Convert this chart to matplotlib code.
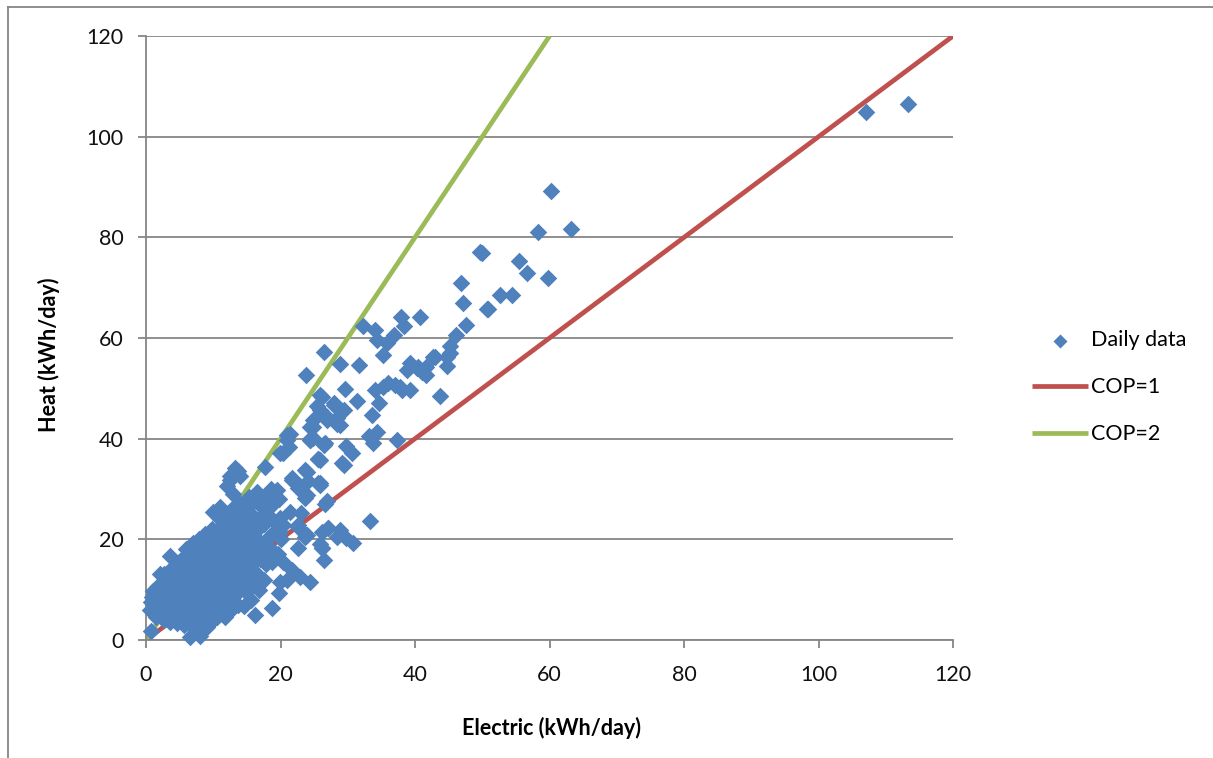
import matplotlib
matplotlib.use('Agg')
import matplotlib.pyplot as plt
from matplotlib.lines import Line2D

# daily points (electric kWh/day, heat kWh/day)
electric = [
    # dense cluster, low electric
    0.8, 0.6, 0.7, 0.9, 1.0,
    1.5, 1.8, 1.6, 2.0, 1.7, 2.1,
    2.6, 2.9, 2.7, 3.0, 2.5, 2.8, 3.1, 2.6,
    3.6, 3.4, 3.8, 3.5, 4.0, 3.7, 3.9, 3.6, 3.6,
    4.6, 4.9, 4.7, 5.0, 4.5, 4.8, 5.1, 4.6, 4.9,
    5.6, 5.9, 5.7, 6.0, 5.5, 5.8, 6.1, 5.6, 5.9, 5.7, 6.0,
    6.5, 6.8, 6.6, 7.0, 6.7, 6.9, 6.6, 7.1, 6.8, 6.5, 7.0, 6.7, 7.0,
    8.0, 8.0, 7.6, 7.9, 7.7, 8.1, 7.5, 7.8, 8.0, 7.6, 7.9, 7.7, 8.1, 7.8,
    9.0, 8.6, 8.9, 8.7, 9.1, 8.5, 8.8, 9.0, 8.6, 8.9, 8.7, 9.1, 8.8,
    9.6, 10.5, 9.7, 9.9, 10.1, 9.6, 9.8, 10.0, 9.7, 9.9, 9.6, 10.0, 9.8, 10.0,
    10.5, 10.8, 10.6, 11.0, 10.7, 10.9, 10.6, 11.1, 10.8, 10.5, 11.0, 10.7, 11.0, 11.0,
    11.7, 11.6, 11.9, 11.7, 12.0, 11.5, 11.8, 12.1, 11.6, 11.9, 11.7, 12.0, 11.8, 12.0, 12.5,
    12.6, 12.9, 12.7, 13.0, 12.5, 12.8, 13.1, 12.6, 12.9, 12.7, 13.0, 12.8, 13.0, 12.5, 13.2,
    13.6, 13.9, 13.7, 14.0, 13.5, 13.8, 14.1, 13.6, 13.9, 13.7, 14.0, 14.0, 13.6,
    14.5, 14.8, 14.6, 15.0, 14.7, 14.9, 14.6, 15.1, 14.8, 15.3,
    15.6, 15.9, 15.7, 16.0, 15.5, 15.8, 16.1, 15.6, 15.9,
    16.2, 16.8, 16.6, 17.0, 16.7, 16.9, 16.6, 17.1, 16.8, 16.5,
    17.6, 17.9, 17.7, 18.0, 17.5, 17.8, 18.1, 17.7,
    18.7, 18.8, 18.6, 19.0, 18.7, 18.9, 18.6, 19.4,
    19.7, 19.9, 19.6, 20.0, 19.9, 19.7, 19.9, 20.4, 20.9, 20.4, 20.9,
    # middle band
    20.4, 21.7, 20.9, 22.9, 24.4, 21.4, 23.1, 20.4, 22.6, 23.6,
    26.1, 27.1, 28.4, 22.6, 26.1, 26.4, 21.7, 22.9,
    21.4, 21.2, 21.7, 23.9, 22.6, 25.9, 23.6, 26.9, 22.6, 23.9,
    33.3, 27.1, 28.8, 29.8, 30.8, 26.1, 25.6, 29.1, 24.1, 25.9,
    24.4, 24.9, 26.4, 28.9, 15.3, 19.9, 25.9,
    26.1, 27.9, 25.9, 24.9, 26.9, 28.4, 24.9, 26.6, 24.4, 25.9,
    23.6, 25.6, 23.9, 26.6,
    # upper band
    49.7, 46.9, 47.1, 50.7, 47.6, 46.1, 45.2, 44.7, 45.2, 44.7, 43.7,
    40.7, 37.9, 38.3, 32.3, 34.1, 36.8, 35.8, 34.3, 35.3, 26.4, 28.9,
    31.7, 23.8, 39.3, 40.5, 41.7, 42.7, 41.7, 41.0, 38.8, 37.0, 37.8,
    39.3, 35.3, 34.1, 34.6, 33.6, 29.6, 31.3, 25.9, 25.4, 27.9, 29.4,
    28.4, 26.9, 24.4, 26.4, 24.6, 29.8, 30.6, 29.4, 33.1, 34.3, 33.8,
    37.3, 25.6, 43.0, 40.3, 36.0, 38.0,
    # high values
    60.2, 58.3, 63.2, 49.9, 55.5, 56.6, 59.7, 52.7, 54.4, 50.9,
    107.1, 113.3,
]
heat = [
    1.7, 6.0, 7.5, 8.6, 9.8,
    4.6, 6.5, 8.0, 9.3, 10.5, 13.2,
    4.0, 5.5, 7.0, 8.5, 10.0, 11.0, 12.5, 13.2,
    3.5, 5.3, 6.5, 8.0, 9.5, 10.9, 12.0, 14.0, 16.7,
    3.3, 5.5, 7.0, 8.5, 10.0, 11.5, 13.0, 14.5, 15.5,
    3.0, 4.5, 6.0, 7.5, 9.0, 10.5, 12.0, 13.5, 15.0, 16.5, 18.0,
    0.5, 2.5, 4.0, 5.5, 7.0, 8.5, 10.0, 11.5, 13.0, 14.5, 16.0, 17.5, 19.2,
    0.8, 1.3, 3.5, 5.0, 6.5, 8.0, 9.5, 11.0, 12.5, 14.0, 15.5, 17.0, 18.5, 20.0,
    2.6, 4.0, 6.0, 7.5, 9.0, 10.5, 12.0, 13.5, 15.0, 16.5, 18.0, 19.5, 21.0,
    3.5, 4.5, 6.5, 8.0, 9.5, 11.0, 12.5, 14.0, 15.5, 17.0, 18.5, 20.0, 22.0, 25.4,
    6.6, 5.5, 8.5, 10.0, 11.5, 13.0, 14.5, 16.0, 17.5, 19.0, 20.5, 22.0, 24.0, 26.5,
    4.6, 7.5, 9.5, 11.0, 12.5, 14.0, 15.5, 17.0, 18.5, 20.0, 21.5, 23.0, 25.0, 30.5, 31.8,
    6.0, 8.5, 10.5, 12.0, 14.0, 15.5, 17.0, 18.5, 20.0, 22.0, 23.5, 26.0, 29.1, 32.5, 34.1,
    7.0, 10.0, 12.5, 14.5, 16.0, 17.5, 19.0, 20.5, 22.0, 24.0, 27.0, 32.5, 33.5,
    6.7, 9.5, 12.0, 14.5, 17.0, 19.0, 21.0, 23.0, 25.5, 28.0,
    8.0, 11.0, 13.0, 15.5, 18.0, 20.5, 22.5, 25.0, 27.5,
    5.0, 10.0, 13.0, 16.0, 17.5, 19.5, 22.0, 24.5, 27.0, 29.5,
    12.0, 15.0, 17.0, 20.0, 23.0, 26.0, 28.5, 34.4,
    6.3, 15.5, 18.0, 21.5, 24.0, 27.0, 30.0, 29.8,
    9.3, 11.5, 17.0, 20.0, 24.2, 28.0, 37.1, 15.5, 11.9, 22.9, 40.7,
    37.1, 32.1, 39.7, 30.5, 39.7, 25.5, 25.2, 22.9, 22.5, 20.5,
    21.5, 22.2, 20.5, 18.2, 18.2, 15.9, 13.9, 12.6,
    40.9, 38.4, 31.8, 33.4, 30.1, 31.1, 28.3, 27.7, 22.8, 20.8,
    23.7, 22.2, 21.8, 20.2, 19.2, 18.2, 35.9, 35.1, 31.5, 30.8,
    11.6, 40.1, 38.7, 42.7, 28.5, 21.5, 19.0,
    48.3, 46.7, 45.7, 43.7, 44.4, 43.0, 42.4, 39.1, 39.7, 35.8,
    33.8, 31.1, 28.8, 27.1,
    77.0, 71.0, 67.0, 65.8, 62.6, 60.6, 58.4, 54.5, 57.0, 56.3, 48.5,
    64.1, 64.1, 62.3, 62.4, 61.6, 60.6, 59.0, 59.6, 56.6, 57.3, 54.8,
    54.6, 52.7, 55.0, 54.3, 54.3, 56.3, 52.7, 53.3, 53.7, 50.6, 50.3,
    49.7, 50.3, 49.7, 47.0, 44.7, 49.9, 47.5, 48.7, 46.4, 47.0, 45.7,
    44.1, 43.8, 42.4, 39.0, 40.1, 38.5, 37.1, 34.8, 40.6, 41.3, 39.1,
    39.8, 35.9, 56.3, 54.0, 51.0, 49.7,
    89.3, 81.1, 81.7, 76.8, 75.2, 73.0, 72.0, 68.5, 68.5, 65.7,
    104.9, 106.5,
]

cop1_electric = [0, 120]
cop1_heat = [0, 120]
cop2_electric = [0, 60]
cop2_heat = [0, 120]

blue = '#4f81bd'
red = '#c0504d'
green = '#9bbb59'
grey = '#868686'

plt.rcParams['font.family'] = ['Lato', 'DejaVu Sans']

fig = plt.figure(figsize=(12.13, 7.58), dpi=100)
ax = fig.add_axes([0.1204, 0.1557, 0.6653, 0.7968])

ax.plot(cop1_electric, cop1_heat, color=red, lw=3.4, zorder=2, label='COP=1',
        solid_capstyle='butt')
ax.plot(cop2_electric, cop2_heat, color=green, lw=3.4, zorder=2, label='COP=2',
        solid_capstyle='butt')
ax.scatter(electric, heat, marker='D', s=80, color=blue, linewidths=0,
           zorder=3, label='Daily data', clip_on=False)

ax.set_xlim(0, 120)
ax.set_ylim(0, 120)
ax.set_xticks(range(0, 121, 20))
ax.set_yticks(range(0, 121, 20))
ax.grid(axis='y', color=grey, lw=1.3)
ax.set_axisbelow(True)
for s in ['top', 'right']:
    ax.spines[s].set_visible(False)
for s in ['left', 'bottom']:
    ax.spines[s].set_color(grey)
    ax.spines[s].set_linewidth(1.3)
ax.tick_params(axis='both', color=grey, width=1.3, length=6, labelsize=15.5,
               direction='out', labelcolor='#111111')
ax.tick_params(axis='x', pad=12)
ax.tick_params(axis='y', pad=10)

ax.set_xlabel('Electric (kWh/day)', fontsize=15.5, fontweight='bold')
ax.set_ylabel('Heat (kWh/day)', fontsize=15.5, fontweight='bold')
ax.xaxis.set_label_coords(0.503, -0.127)
ax.yaxis.set_label_coords(-0.107, 0.472)

handles, labels = ax.get_legend_handles_labels()
order = [2, 0, 1]
leg = fig.legend([handles[i] for i in order], [labels[i] for i in order],
                 loc='center left', bbox_to_anchor=(0.835, 0.489),
                 frameon=False, fontsize=15.5, handlelength=2.6,
                 labelspacing=1.25, handletextpad=0.15, markerscale=0.8)

# outer chart frame (only left and top edges visible in the reference)
fig.add_artist(Line2D([0.0066, 0.0066], [0.0, 0.9908], color=grey, lw=1.3,
                      transform=fig.transFigure))
fig.add_artist(Line2D([0.0066, 1.0], [0.9908, 0.9908], color=grey, lw=1.3,
                      transform=fig.transFigure))

fig.savefig('out.png', dpi=100)
